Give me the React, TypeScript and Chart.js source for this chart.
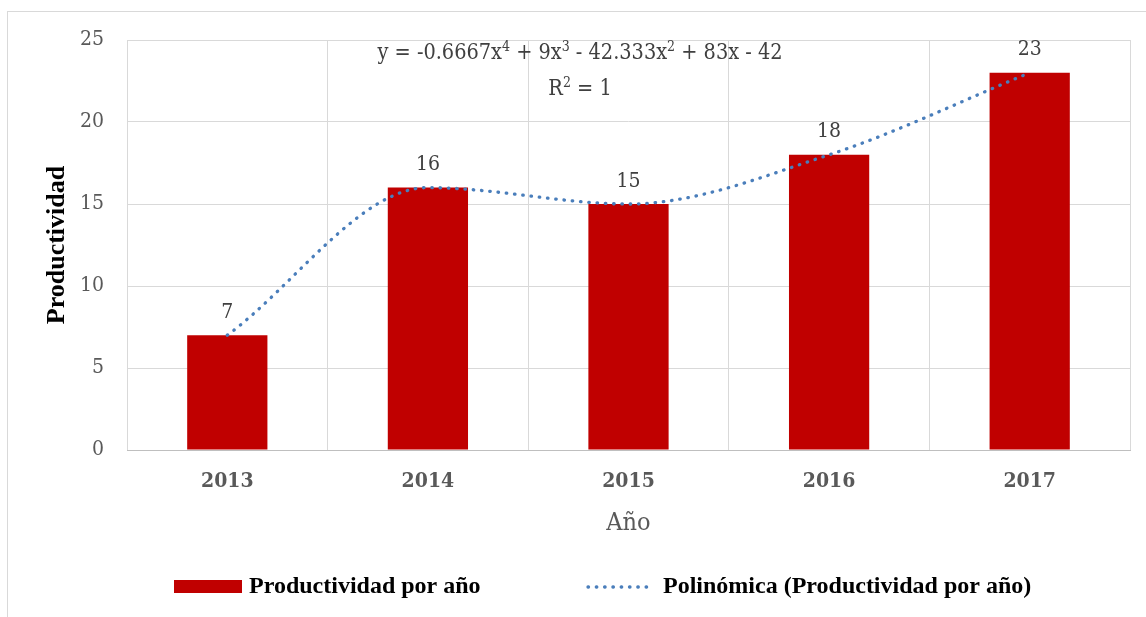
import React, { useEffect, useRef } from "react";
import { Chart, registerables } from "chart.js";

Chart.register(...registerables);

const categories = ["2013", "2014", "2015", "2016", "2017"];
const productividad = [7, 16, 15, 18, 23];
const yTicks = [0, 5, 10, 15, 20, 25];
// equation pieces: [text, isSuperscript]
const equationParts: [string, boolean][] = [
  ["y = -0.6667x", false],
  ["4", true],
  [" + 9x", false],
  ["3", true],
  [" - 42.333x", false],
  ["2", true],
  [" + 83x - 42", false],
];
const r2Parts: [string, boolean][] = [
  ["R", false],
  ["2", true],
  [" = 1", false],
];
const barLabel = "Productividad por año";
const trendLabel = "Polinómica (Productividad por año)";
const yTitle = "Productividad";
const xTitle = "Año";

const SERIF = '"DejaVu Serif Condensed", "DejaVu Serif", serif';
const TIMES = '"Liberation Serif", "Times New Roman", serif';
const BAR_COLOR = "#C00000";
const DOT_COLOR = "#4A7EBB";

function drawParts(ctx: any, parts: [string, boolean][], cx: number, y: number) {
  const main = `21.5px ${SERIF}`;
  const sup = `14px ${SERIF}`;
  let total = 0;
  const widths = parts.map(([t, s]) => {
    ctx.font = s ? sup : main;
    const w = ctx.measureText(t).width;
    total += w;
    return w;
  });
  let x = cx - total / 2;
  ctx.textAlign = "left";
  parts.forEach(([t, s], i) => {
    ctx.font = s ? sup : main;
    ctx.fillText(t, x, s ? y - 8 : y);
    x += widths[i];
  });
}

const overlayPlugin = {
  id: "overlay",
  beforeDraw(chart: any) {
    const ctx = chart.ctx;
    ctx.save();
    ctx.fillStyle = "#ffffff";
    ctx.fillRect(0, 0, chart.width, chart.height);
    ctx.strokeStyle = "#d9d9d9";
    ctx.lineWidth = 1;
    ctx.strokeRect(7.5, 11.5, 1300, 800);
    ctx.restore();
  },
  afterDraw(chart: any) {
    const ctx = chart.ctx;
    const area = chart.chartArea;
    ctx.save();
    // data labels
    const meta = chart.getDatasetMeta(0);
    ctx.font = `21px ${SERIF}`;
    ctx.fillStyle = "#404040";
    ctx.textAlign = "center";
    ctx.textBaseline = "alphabetic";
    meta.data.forEach((bar: any, i: number) => {
      ctx.fillText(String(productividad[i]), bar.x, bar.y - 17.5);
    });
    // equation
    ctx.fillStyle = "#404040";
    drawParts(ctx, equationParts, 580, 59);
    drawParts(ctx, r2Parts, 580, 95);
    // x title
    ctx.textAlign = "center";
    ctx.font = `25px ${SERIF}`;
    ctx.fillStyle = "#595959";
    ctx.fillText(xTitle, (area.left + area.right) / 2, 530);
    // y title
    ctx.save();
    ctx.translate(64, (area.top + area.bottom) / 2);
    ctx.rotate(-Math.PI / 2);
    ctx.font = `bold 26px ${TIMES}`;
    ctx.fillStyle = "#000000";
    ctx.textAlign = "center";
    ctx.fillText(yTitle, 0, 0);
    ctx.restore();
    // legend
    ctx.fillStyle = BAR_COLOR;
    ctx.fillRect(174, 580, 68, 13);
    ctx.font = `bold 24px ${TIMES}`;
    ctx.fillStyle = "#000000";
    ctx.textAlign = "left";
    ctx.fillText(barLabel, 249, 593);
    ctx.beginPath();
    ctx.strokeStyle = DOT_COLOR;
    ctx.lineWidth = 3.3;
    ctx.lineCap = "round";
    ctx.setLineDash([0.5, 7.8]);
    ctx.moveTo(588, 587);
    ctx.lineTo(650, 587);
    ctx.stroke();
    ctx.setLineDash([]);
    ctx.fillText(trendLabel, 663, 593);
    ctx.restore();
  },
};

export default function App() {
  const ref = useRef<HTMLCanvasElement | null>(null);
  useEffect(() => {
    if (!ref.current) return;
    const chart = new Chart(ref.current, {
      type: "bar",
      data: {
        labels: categories,
        datasets: [
          {
            type: "bar",
            label: barLabel,
            data: productividad,
            backgroundColor: BAR_COLOR,
            categoryPercentage: 1,
            barPercentage: 0.4,
            order: 1,
          },
          {
            type: "line",
            label: trendLabel,
            data: productividad,
            borderColor: DOT_COLOR,
            borderWidth: 3.3,
            borderCapStyle: "round",
            borderDash: [0.5, 7.8],
            cubicInterpolationMode: "monotone",
            pointRadius: 0,
            fill: false,
            order: 0,
          } as any,
        ],
      },
      options: {
        responsive: false,
        animation: false,
        layout: { padding: { top: 40, right: 16, left: 0, bottom: 0 } },
        plugins: {
          legend: { display: false },
          tooltip: { enabled: false },
        },
        scales: {
          x: {
            grid: { color: "#d9d9d9", drawTicks: false, offset: true },
            border: { color: "#bfbfbf", width: 1 },
            ticks: {
              color: "#595959",
              font: { family: SERIF, size: 21, weight: "bold" },
              padding: 19,
            },
            afterFit: (s: any) => {
              s.height = 167;
            },
          },
          y: {
            min: 0,
            max: 25,
            afterBuildTicks: (s: any) => {
              s.ticks = yTicks.map((v) => ({ value: v }));
            },
            grid: { color: "#d9d9d9", drawTicks: false },
            border: { display: false },
            ticks: {
              color: "#595959",
              font: { family: SERIF, size: 21 },
              padding: 23,
            },
            afterFit: (s: any) => {
              s.width = 127;
            },
          },
        },
      },
      plugins: [overlayPlugin],
    });
    return () => chart.destroy();
  }, []);
  return (
    <div style={{ position: "fixed", left: 0, top: 0, width: 1146, height: 617 }}>
      <canvas ref={ref} width={1146} height={617} style={{ width: 1146, height: 617 }} />
    </div>
  );
}
